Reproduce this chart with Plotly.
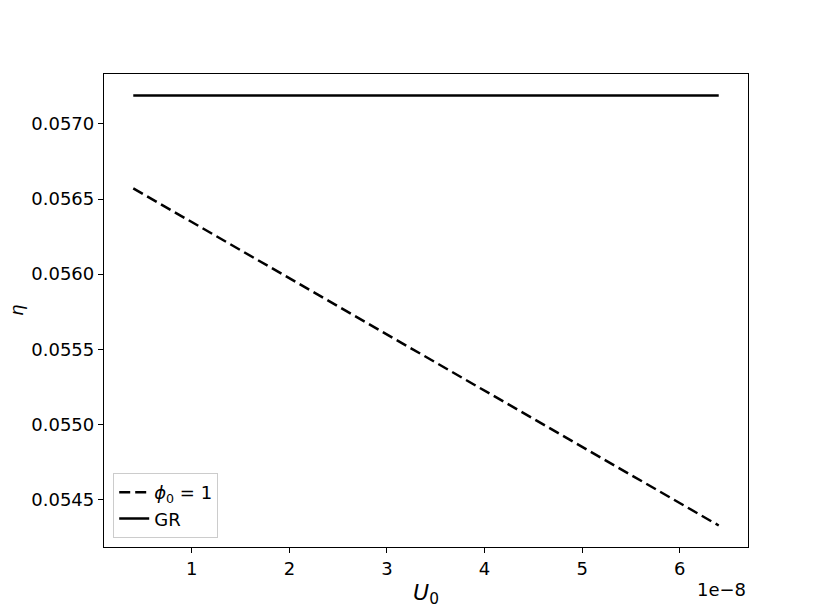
import plotly.graph_objects as go

# U0 in units of 1e-8
u0 = [0.4, 6.4]
eta_phi = [0.056571, 0.054327]
eta_gr = [0.057189, 0.057189]

xticks = [1, 2, 3, 4, 5, 6]
yticks = [0.0545, 0.0550, 0.0555, 0.0560, 0.0565, 0.0570]

fig = go.Figure()
fig.add_trace(go.Scatter(x=u0, y=eta_phi, mode="lines", name="<i>ϕ</i><sub>0</sub> = 1",
                         line=dict(color="black", width=2.5, dash="11px,5px")))
fig.add_trace(go.Scatter(x=u0, y=eta_gr, mode="lines", name="GR",
                         line=dict(color="black", width=2.5)))

xr = [u0[0] - 0.05 * (u0[1] - u0[0]), u0[1] + 0.05 * (u0[1] - u0[0])]
ymin, ymax = min(eta_phi + eta_gr), max(eta_phi + eta_gr)
yr = [ymin - 0.05 * (ymax - ymin), ymax + 0.05 * (ymax - ymin)]

axis_style = dict(showline=True, linecolor="black", linewidth=1.3, mirror=True,
                  ticks="outside", ticklen=5, tickwidth=1.3, tickcolor="black",
                  showgrid=False, zeroline=False, automargin=False,
                  tickfont=dict(family="DejaVu Sans", size=18, color="black"))

fig.update_layout(
    width=831, height=615,
    margin=dict(l=96, r=91, t=66, b=76),
    plot_bgcolor="white", paper_bgcolor="white",
    font=dict(family="DejaVu Sans", size=18, color="black"),
    xaxis=dict(range=xr, tickvals=xticks, ticktext=[str(t) for t in xticks],
               title=dict(text="<i>U</i><sub>0</sub>", standoff=6), **axis_style),
    yaxis=dict(range=yr, tickvals=yticks, tickformat=".4f", **axis_style),
    legend=dict(x=0.0143, y=0.019, xanchor="left", yanchor="bottom",
                bgcolor="rgba(255,255,255,0.8)", bordercolor="#cccccc", borderwidth=1,
                font=dict(family="DejaVu Sans", size=18)),
    annotations=[
        dict(text="1e−8", xref="paper", yref="paper", x=1.0, y=-0.09,
             xanchor="right", yanchor="middle", showarrow=False,
             font=dict(family="DejaVu Sans", size=18)),
        dict(text="<i>η</i>", xref="paper", yref="paper", x=-0.136, y=0.5,
             xanchor="center", yanchor="middle", textangle=-90, showarrow=False,
             borderpad=0, font=dict(family="DejaVu Sans", size=18)),
    ],
)

fig.write_html("out.html")
